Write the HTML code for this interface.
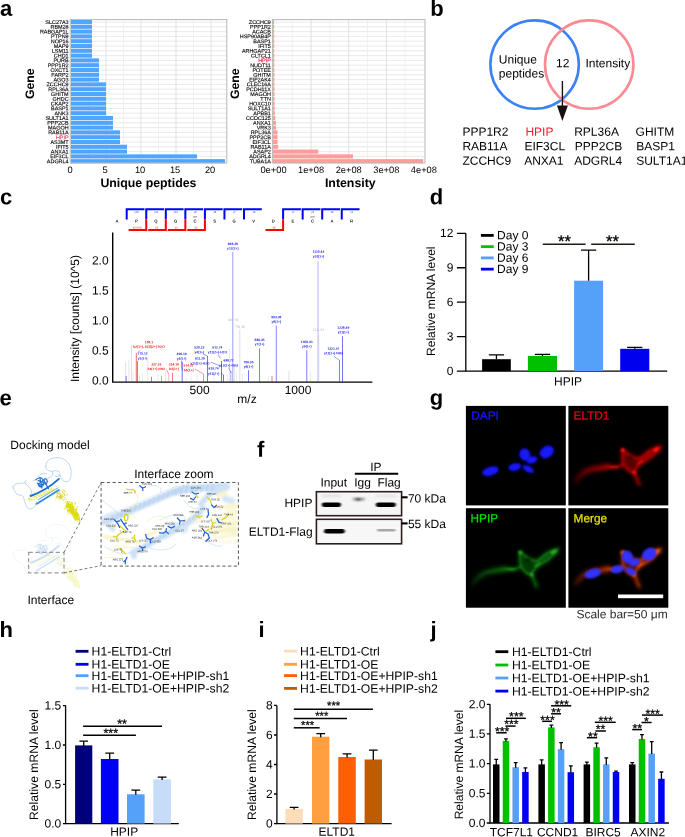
<!DOCTYPE html>
<html lang="en"><head><meta charset="utf-8"><title>Figure</title>
<style>
html,body{margin:0;padding:0;background:#fff;}
body{width:685px;height:837px;overflow:hidden;}
svg{display:block;will-change:transform;text-rendering:geometricPrecision;font-family:"Liberation Sans",Arial,Helvetica,sans-serif;}
</style></head><body>
<svg width="685" height="837" viewBox="0 0 685 837">
<rect width="685" height="837" fill="#fff"/>
<g font-weight="bold" font-size="22">
<text x="0" y="15.8" transform="rotate(0.03 0 15.8)">a</text>
<text x="430.3" y="15.8" transform="rotate(0.03 430.3 15.8)">b</text>
<text x="0" y="204.2" transform="rotate(0.03 0 204.2)">c</text>
<text x="429.8" y="204.2" transform="rotate(0.03 429.8 204.2)">d</text>
<text x="-0.6" y="405.3" transform="rotate(0.03 -0.6 405.3)">e</text>
<text x="257" y="456.7" transform="rotate(0.03 257 456.7)">f</text>
<text x="429.8" y="405" transform="rotate(0.03 429.8 405)">g</text>
<text x="-0.4" y="636.9" transform="rotate(0.03 -0.4 636.9)">h</text>
<text x="258.6" y="636.9" transform="rotate(0.03 258.6 636.9)">i</text>
<text x="430.6" y="636.9" transform="rotate(0.03 430.6 636.9)">j</text>
</g>
<g>
<rect x="70.2" y="19.6" width="156.6" height="143.4" fill="#fff"/>
<path d="M70.2 22H226.8M70.2 26.8H226.8M70.2 31.6H226.8M70.2 36.4H226.8M70.2 41.2H226.8M70.2 46H226.8M70.2 50.8H226.8M70.2 55.6H226.8M70.2 60.4H226.8M70.2 65.2H226.8M70.2 70H226.8M70.2 74.8H226.8M70.2 79.6H226.8M70.2 84.4H226.8M70.2 89.2H226.8M70.2 94H226.8M70.2 98.8H226.8M70.2 103.6H226.8M70.2 108.4H226.8M70.2 113.2H226.8M70.2 118H226.8M70.2 122.8H226.8M70.2 127.6H226.8M70.2 132.4H226.8M70.2 137.2H226.8M70.2 142H226.8M70.2 146.8H226.8M70.2 151.6H226.8M70.2 156.4H226.8M70.2 161.2H226.8" stroke="#e6e6e6" stroke-width="0.9" fill="none"/>
<path d="M106 19.6V163M141 19.6V163M176 19.6V163M211 19.6V163" stroke="#dedede" stroke-width="0.9" fill="none"/>
<path d="M88.5 19.6V163M123.5 19.6V163M158.5 19.6V163M193.5 19.6V163" stroke="#ebebeb" stroke-width="0.7" fill="none"/>
<g fill="#4fa5ff">
<rect x="71" y="19.95" width="21" height="4.1"/>
<rect x="71" y="24.75" width="21" height="4.1"/>
<rect x="71" y="29.55" width="21" height="4.1"/>
<rect x="71" y="34.35" width="21" height="4.1"/>
<rect x="71" y="39.15" width="21" height="4.1"/>
<rect x="71" y="43.95" width="21" height="4.1"/>
<rect x="71" y="48.75" width="21" height="4.1"/>
<rect x="71" y="53.55" width="21" height="4.1"/>
<rect x="71" y="58.35" width="28" height="4.1"/>
<rect x="71" y="63.15" width="28" height="4.1"/>
<rect x="71" y="67.95" width="28" height="4.1"/>
<rect x="71" y="72.75" width="28" height="4.1"/>
<rect x="71" y="77.55" width="28" height="4.1"/>
<rect x="71" y="82.35" width="35" height="4.1"/>
<rect x="71" y="87.15" width="35" height="4.1"/>
<rect x="71" y="91.95" width="35" height="4.1"/>
<rect x="71" y="96.75" width="35" height="4.1"/>
<rect x="71" y="101.55" width="35" height="4.1"/>
<rect x="71" y="106.35" width="35" height="4.1"/>
<rect x="71" y="111.15" width="35" height="4.1"/>
<rect x="71" y="115.95" width="42" height="4.1"/>
<rect x="71" y="120.75" width="42" height="4.1"/>
<rect x="71" y="125.55" width="42" height="4.1"/>
<rect x="71" y="130.35" width="49" height="4.1"/>
<rect x="71" y="135.15" width="49" height="4.1"/>
<rect x="71" y="139.95" width="49" height="4.1"/>
<rect x="71" y="144.75" width="56" height="4.1"/>
<rect x="71" y="149.55" width="56" height="4.1"/>
<rect x="71" y="154.35" width="126" height="4.1"/>
<rect x="71" y="159.15" width="154" height="4.1"/>
</g>
<rect x="70.2" y="19.6" width="156.6" height="143.4" fill="none" stroke="#b8b8b8" stroke-width="1"/>
<g font-size="5.45" text-anchor="end" stroke="#000" stroke-width="0.12">
<text x="68.6" y="23.95" transform="rotate(0.03 68.6 23.95)">SLC27A3</text>
<text x="68.6" y="28.75" transform="rotate(0.03 68.6 28.75)">RBM28</text>
<text x="68.6" y="33.55" transform="rotate(0.03 68.6 33.55)">RABGAP1L</text>
<text x="68.6" y="38.35" transform="rotate(0.03 68.6 38.35)">PTPN9</text>
<text x="68.6" y="43.15" transform="rotate(0.03 68.6 43.15)">NOP16</text>
<text x="68.6" y="47.95" transform="rotate(0.03 68.6 47.95)">MAP9</text>
<text x="68.6" y="52.75" transform="rotate(0.03 68.6 52.75)">LSM11</text>
<text x="68.6" y="57.55" transform="rotate(0.03 68.6 57.55)">CHD1</text>
<text x="68.6" y="62.35" transform="rotate(0.03 68.6 62.35)">PURB</text>
<text x="68.6" y="67.15" transform="rotate(0.03 68.6 67.15)">PPP1R2</text>
<text x="68.6" y="71.95" transform="rotate(0.03 68.6 71.95)">OXCT1</text>
<text x="68.6" y="76.75" transform="rotate(0.03 68.6 76.75)">FARP2</text>
<text x="68.6" y="81.55" transform="rotate(0.03 68.6 81.55)">AGO3</text>
<text x="68.6" y="86.35" transform="rotate(0.03 68.6 86.35)">ZCCHC9</text>
<text x="68.6" y="91.15" transform="rotate(0.03 68.6 91.15)">RPL36A</text>
<text x="68.6" y="95.95" transform="rotate(0.03 68.6 95.95)">GHITM</text>
<text x="68.6" y="100.75" transform="rotate(0.03 68.6 100.75)">GHDC</text>
<text x="68.6" y="105.55" transform="rotate(0.03 68.6 105.55)">CKAP2</text>
<text x="68.6" y="110.35" transform="rotate(0.03 68.6 110.35)">BASP1</text>
<text x="68.6" y="115.15" transform="rotate(0.03 68.6 115.15)">ANK3</text>
<text x="68.6" y="119.95" transform="rotate(0.03 68.6 119.95)">SULT1A1</text>
<text x="68.6" y="124.75" transform="rotate(0.03 68.6 124.75)">PPP2CB</text>
<text x="68.6" y="129.55" transform="rotate(0.03 68.6 129.55)">MAGOH</text>
<text x="68.6" y="134.35" transform="rotate(0.03 68.6 134.35)">RAB11A</text>
<text x="68.6" y="139.15" fill="#f03050" transform="rotate(0.03 68.6 139.15)" stroke="#f03050">HPIP</text>
<text x="68.6" y="143.95" transform="rotate(0.03 68.6 143.95)">AS3MT</text>
<text x="68.6" y="148.75" transform="rotate(0.03 68.6 148.75)">IFIT5</text>
<text x="68.6" y="153.55" transform="rotate(0.03 68.6 153.55)">ANXA1</text>
<text x="68.6" y="158.35" transform="rotate(0.03 68.6 158.35)">EIF3CL</text>
<text x="68.6" y="163.15" transform="rotate(0.03 68.6 163.15)">ADGRL4</text>
</g>
<g font-size="9.3" text-anchor="middle">
<text x="70.1" y="173" transform="rotate(0.03 70.1 173)">0</text>
<text x="105.1" y="173" transform="rotate(0.03 105.1 173)">5</text>
<text x="140.1" y="173" transform="rotate(0.03 140.1 173)">10</text>
<text x="175.1" y="173" transform="rotate(0.03 175.1 173)">15</text>
<text x="210.1" y="173" transform="rotate(0.03 210.1 173)">20</text>
</g>
<text x="148.4" y="187" font-size="12.35" text-anchor="middle" font-weight="bold" transform="rotate(0.03 148.4 187)">Unique peptides</text>
<text x="33.6" y="83.7" font-size="12.3" text-anchor="middle" font-weight="bold" transform="rotate(-90 33.6 83.7)">Gene</text>
</g>
<g>
<rect x="272.4" y="19.6" width="152.6" height="143.4" fill="#fff"/>
<path d="M272.4 22H425M272.4 26.8H425M272.4 31.6H425M272.4 36.4H425M272.4 41.2H425M272.4 46H425M272.4 50.8H425M272.4 55.6H425M272.4 60.4H425M272.4 65.2H425M272.4 70H425M272.4 74.8H425M272.4 79.6H425M272.4 84.4H425M272.4 89.2H425M272.4 94H425M272.4 98.8H425M272.4 103.6H425M272.4 108.4H425M272.4 113.2H425M272.4 118H425M272.4 122.8H425M272.4 127.6H425M272.4 132.4H425M272.4 137.2H425M272.4 142H425M272.4 146.8H425M272.4 151.6H425M272.4 156.4H425M272.4 161.2H425" stroke="#e6e6e6" stroke-width="0.9" fill="none"/>
<path d="M311.1 19.6V163M348.7 19.6V163M386.3 19.6V163" stroke="#dedede" stroke-width="0.9" fill="none"/>
<path d="M292.3 19.6V163M329.9 19.6V163M367.5 19.6V163M405.1 19.6V163" stroke="#ebebeb" stroke-width="0.7" fill="none"/>
<g fill="#ff9c9c">
<rect x="272.9" y="19.95" width="1.2" height="4.1"/>
<rect x="272.9" y="24.75" width="1.2" height="4.1"/>
<rect x="272.9" y="29.55" width="1.2" height="4.1"/>
<rect x="272.9" y="34.35" width="1.3" height="4.1"/>
<rect x="272.9" y="39.15" width="1.3" height="4.1"/>
<rect x="272.9" y="43.95" width="1.3" height="4.1"/>
<rect x="272.9" y="48.75" width="1.3" height="4.1"/>
<rect x="272.9" y="53.55" width="1.4" height="4.1"/>
<rect x="272.9" y="58.35" width="1.4" height="4.1"/>
<rect x="272.9" y="63.15" width="1.4" height="4.1"/>
<rect x="272.9" y="67.95" width="1.4" height="4.1"/>
<rect x="272.9" y="72.75" width="1.5" height="4.1"/>
<rect x="272.9" y="77.55" width="1.5" height="4.1"/>
<rect x="272.9" y="82.35" width="1.5" height="4.1"/>
<rect x="272.9" y="87.15" width="1.6" height="4.1"/>
<rect x="272.9" y="91.95" width="1.6" height="4.1"/>
<rect x="272.9" y="96.75" width="1.6" height="4.1"/>
<rect x="272.9" y="101.55" width="1.7" height="4.1"/>
<rect x="272.9" y="106.35" width="1.8" height="4.1"/>
<rect x="272.9" y="111.15" width="1.9" height="4.1"/>
<rect x="272.9" y="115.95" width="2.4" height="4.1"/>
<rect x="272.9" y="120.75" width="3.1" height="4.1"/>
<rect x="272.9" y="125.55" width="3.1" height="4.1"/>
<rect x="272.9" y="130.35" width="4.6" height="4.1"/>
<rect x="272.9" y="135.15" width="4.6" height="4.1"/>
<rect x="272.9" y="139.95" width="4.6" height="4.1"/>
<rect x="272.9" y="144.75" width="5.2" height="4.1"/>
<rect x="272.9" y="149.55" width="45.3" height="4.1"/>
<rect x="272.9" y="154.35" width="80.1" height="4.1"/>
<rect x="272.9" y="159.15" width="150.2" height="4.1"/>
</g>
<rect x="272.4" y="19.6" width="152.6" height="143.4" fill="none" stroke="#b8b8b8" stroke-width="1"/>
<g font-size="5.45" text-anchor="end" stroke="#000" stroke-width="0.12">
<text x="270.9" y="23.95" transform="rotate(0.03 270.9 23.95)">ZCCHC9</text>
<text x="270.9" y="28.75" transform="rotate(0.03 270.9 28.75)">PPP1R2</text>
<text x="270.9" y="33.55" transform="rotate(0.03 270.9 33.55)">ACACB</text>
<text x="270.9" y="38.35" transform="rotate(0.03 270.9 38.35)">HSP90AB4P</text>
<text x="270.9" y="43.15" transform="rotate(0.03 270.9 43.15)">BASP1</text>
<text x="270.9" y="47.95" transform="rotate(0.03 270.9 47.95)">IFIT5</text>
<text x="270.9" y="52.75" transform="rotate(0.03 270.9 52.75)">ARHGAP21</text>
<text x="270.9" y="57.55" transform="rotate(0.03 270.9 57.55)">CLTCL1</text>
<text x="270.9" y="62.35" fill="#f01030" transform="rotate(0.03 270.9 62.35)" stroke="#f01030">HPIP</text>
<text x="270.9" y="67.15" transform="rotate(0.03 270.9 67.15)">NUDT11</text>
<text x="270.9" y="71.95" transform="rotate(0.03 270.9 71.95)">POTEE</text>
<text x="270.9" y="76.75" transform="rotate(0.03 270.9 76.75)">GHITM</text>
<text x="270.9" y="81.55" transform="rotate(0.03 270.9 81.55)">EIF2AK4</text>
<text x="270.9" y="86.35" transform="rotate(0.03 270.9 86.35)">CLEC16A</text>
<text x="270.9" y="91.15" transform="rotate(0.03 270.9 91.15)">PCDH11X</text>
<text x="270.9" y="95.95" transform="rotate(0.03 270.9 95.95)">MAGOH</text>
<text x="270.9" y="100.75" transform="rotate(0.03 270.9 100.75)">TTN</text>
<text x="270.9" y="105.55" transform="rotate(0.03 270.9 105.55)">HOXC10</text>
<text x="270.9" y="110.35" transform="rotate(0.03 270.9 110.35)">SULT1A1</text>
<text x="270.9" y="115.15" transform="rotate(0.03 270.9 115.15)">APBB1</text>
<text x="270.9" y="119.95" transform="rotate(0.03 270.9 119.95)">CCDC125</text>
<text x="270.9" y="124.75" transform="rotate(0.03 270.9 124.75)">ANXA1</text>
<text x="270.9" y="129.55" transform="rotate(0.03 270.9 129.55)">VRK3</text>
<text x="270.9" y="134.35" transform="rotate(0.03 270.9 134.35)">RPL36A</text>
<text x="270.9" y="139.15" transform="rotate(0.03 270.9 139.15)">PPP2CB</text>
<text x="270.9" y="143.95" transform="rotate(0.03 270.9 143.95)">EIF3CL</text>
<text x="270.9" y="148.75" transform="rotate(0.03 270.9 148.75)">RAB11A</text>
<text x="270.9" y="153.55" transform="rotate(0.03 270.9 153.55)">ASAP2</text>
<text x="270.9" y="158.35" transform="rotate(0.03 270.9 158.35)">ADGRL4</text>
<text x="270.9" y="163.15" transform="rotate(0.03 270.9 163.15)">TUBA1A</text>
</g>
<g font-size="9.3" text-anchor="middle">
<text x="273.5" y="173" transform="rotate(0.03 273.5 173)">0e+00</text>
<text x="311.1" y="173" transform="rotate(0.03 311.1 173)">1e+08</text>
<text x="348.7" y="173" transform="rotate(0.03 348.7 173)">2e+08</text>
<text x="386.3" y="173" transform="rotate(0.03 386.3 173)">3e+08</text>
<text x="423.9" y="173" transform="rotate(0.03 423.9 173)">4e+08</text>
</g>
<text x="350.3" y="187" font-size="12.35" text-anchor="middle" font-weight="bold" transform="rotate(0.03 350.3 187)">Intensity</text>
<text x="239" y="83.7" font-size="12.3" text-anchor="middle" font-weight="bold" transform="rotate(-90 239 83.7)">Gene</text>
</g>
<g>
<circle cx="534.6" cy="64.6" r="44.2" fill="none" stroke="#3b82f6" stroke-width="2.6"/>
<circle cx="589.2" cy="64.6" r="44.2" fill="none" stroke="#fb8a94" stroke-width="2.6"/>
<text x="498.8" y="63.6" font-size="12" transform="rotate(0.03 498.8 63.6)">Unique</text>
<text x="498.8" y="77.6" font-size="12" transform="rotate(0.03 498.8 77.6)">peptides</text>
<text x="562.8" y="67.2" font-size="12" text-anchor="middle" transform="rotate(0.03 562.8 67.2)">12</text>
<text x="585.5" y="67.2" font-size="12" transform="rotate(0.03 585.5 67.2)">Intensity</text>
<line x1="562.4" y1="81" x2="562.4" y2="108" stroke="#1a1010" stroke-width="1.4"/>
<path d="M556.9 105.6L562.4 121L567.9 105.6Z" fill="#1a1010"/>
<g font-size="12">
<text x="462.4" y="135.8" transform="rotate(0.03 462.4 135.8)">PPP1R2</text>
<text x="525.4" y="135.8" fill="#ee1c25" transform="rotate(0.03 525.4 135.8)">HPIP</text>
<text x="574.2" y="135.8" transform="rotate(0.03 574.2 135.8)">RPL36A</text>
<text x="635.6" y="135.8" transform="rotate(0.03 635.6 135.8)">GHITM</text>
<text x="462.4" y="150.3" transform="rotate(0.03 462.4 150.3)">RAB11A</text>
<text x="524.4" y="150.3" transform="rotate(0.03 524.4 150.3)">EIF3CL</text>
<text x="574.8" y="150.3" transform="rotate(0.03 574.8 150.3)">PPP2CB</text>
<text x="636.2" y="150.3" transform="rotate(0.03 636.2 150.3)">BASP1</text>
<text x="462.4" y="164.7" transform="rotate(0.03 462.4 164.7)">ZCCHC9</text>
<text x="524.2" y="164.7" transform="rotate(0.03 524.2 164.7)">ANXA1</text>
<text x="574.2" y="164.7" transform="rotate(0.03 574.2 164.7)">ADGRL4</text>
<text x="636.2" y="164.7" transform="rotate(0.03 636.2 164.7)">SULT1A1</text>
</g>
</g>
<g>
<g font-size="4.2" text-anchor="middle" font-weight="bold" fill="#222">
<text x="116.9" y="222.5" transform="rotate(0.03 116.9 222.5)">A</text>
<text x="136.45" y="222.5" transform="rotate(0.03 136.45 222.5)">P</text>
<text x="156" y="222.5" transform="rotate(0.03 156 222.5)">Q</text>
<text x="175.55" y="222.5" transform="rotate(0.03 175.55 222.5)">G</text>
<text x="195.1" y="222.5" transform="rotate(0.03 195.1 222.5)">C</text>
<text x="214.65" y="222.5" transform="rotate(0.03 214.65 222.5)">S</text>
<text x="234.2" y="222.5" transform="rotate(0.03 234.2 222.5)">G</text>
<text x="253.75" y="222.5" transform="rotate(0.03 253.75 222.5)">V</text>
<text x="273.3" y="222.5" transform="rotate(0.03 273.3 222.5)">D</text>
<text x="292.85" y="222.5" transform="rotate(0.03 292.85 222.5)">E</text>
<text x="312.4" y="222.5" transform="rotate(0.03 312.4 222.5)">C</text>
<text x="331.95" y="222.5" transform="rotate(0.03 331.95 222.5)">A</text>
<text x="351.5" y="222.5" transform="rotate(0.03 351.5 222.5)">R</text>
</g>
<g font-size="2.4" text-anchor="middle" fill="#222">
<text x="195.1" y="217.6" transform="rotate(0.03 195.1 217.6)">cam</text>
<text x="312.4" y="217.6" transform="rotate(0.03 312.4 217.6)">cam</text>
</g>
<path d="M126.7 219.6V209.2H144.5M146.25 219.6V209.2H164.05M165.8 219.6V209.2H183.6M185.35 219.6V209.2H203.15M204.9 219.6V209.2H222.7M224.45 219.6V209.2H242.25M244 219.6V209.2H261.8M283.1 219.6V209.2H300.9M302.65 219.6V209.2H320.45M322.2 219.6V209.2H340M341.75 219.6V209.2H359.55" stroke="#0000ff" stroke-width="2" fill="none"/>
<path d="M146.25 219.4V230H128.65M165.8 219.4V230H148.2M185.35 219.4V230H167.75M204.9 219.4V230H187.3M283.1 219.4V230H265.5" stroke="#ff0000" stroke-width="2" fill="none"/>
<g font-size="2.6" text-anchor="middle" fill="#2222ee">
<text x="136.7" y="212.7" transform="rotate(0.03 136.7 212.7)">y12</text>
<text x="156.25" y="212.7" transform="rotate(0.03 156.25 212.7)">y11</text>
<text x="175.8" y="212.7" transform="rotate(0.03 175.8 212.7)">y10</text>
<text x="195.35" y="212.7" transform="rotate(0.03 195.35 212.7)">y9</text>
<text x="214.9" y="212.7" transform="rotate(0.03 214.9 212.7)">y8</text>
<text x="234.45" y="212.7" transform="rotate(0.03 234.45 212.7)">y7</text>
<text x="254" y="212.7" transform="rotate(0.03 254 212.7)">y6</text>
<text x="293.1" y="212.7" transform="rotate(0.03 293.1 212.7)">y4</text>
<text x="312.65" y="212.7" transform="rotate(0.03 312.65 212.7)">y3</text>
<text x="332.2" y="212.7" transform="rotate(0.03 332.2 212.7)">y2</text>
<text x="351.75" y="212.7" transform="rotate(0.03 351.75 212.7)">y1</text>
</g>
<g font-size="2.6" text-anchor="middle" fill="#ee2222">
<text x="137.25" y="228.4" transform="rotate(0.03 137.25 228.4)">b2-NH3</text>
<text x="156.8" y="228.4" transform="rotate(0.03 156.8 228.4)">b3</text>
<text x="176.35" y="228.4" transform="rotate(0.03 176.35 228.4)">b4</text>
<text x="195.9" y="228.4" transform="rotate(0.03 195.9 228.4)">b5</text>
<text x="274.1" y="228.4" transform="rotate(0.03 274.1 228.4)">b9</text>
</g>
<line x1="125.5" y1="362" x2="125.5" y2="381.6" stroke="#9a9a9a" stroke-width="0.5" opacity="0.55"/>
<line x1="126.2" y1="375.9" x2="126.2" y2="381.6" stroke="#1414f0" stroke-width="0.7" opacity="0.8"/>
<line x1="128.9" y1="360" x2="128.9" y2="381.6" stroke="#9a9a9a" stroke-width="0.5" opacity="0.5"/>
<line x1="131.5" y1="344.7" x2="131.5" y2="381.6" stroke="#9a9a9a" stroke-width="0.5" opacity="0.6"/>
<line x1="133" y1="371" x2="133" y2="381.6" stroke="#9a9a9a" stroke-width="0.5" opacity="0.4"/>
<line x1="136.3" y1="352.9" x2="136.3" y2="381.6" stroke="#f01414" stroke-width="0.7" opacity="0.9"/>
<line x1="137.4" y1="361" x2="137.4" y2="381.6" stroke="#1414f0" stroke-width="0.7" opacity="0.8"/>
<line x1="139.5" y1="374.5" x2="139.5" y2="381.6" stroke="#9a9a9a" stroke-width="0.5" opacity="0.4"/>
<line x1="142.3" y1="373" x2="142.3" y2="381.6" stroke="#9a9a9a" stroke-width="0.5" opacity="0.4"/>
<line x1="147.8" y1="359" x2="147.8" y2="381.6" stroke="#9a9a9a" stroke-width="0.5" opacity="0.5"/>
<line x1="151.4" y1="376.9" x2="151.4" y2="381.6" stroke="#1414f0" stroke-width="0.7" opacity="0.8"/>
<line x1="158" y1="374.5" x2="158" y2="381.6" stroke="#9a9a9a" stroke-width="0.5" opacity="0.4"/>
<line x1="161.4" y1="375.9" x2="161.4" y2="381.6" stroke="#f01414" stroke-width="0.7" opacity="0.7"/>
<line x1="165.6" y1="371" x2="165.6" y2="381.6" stroke="#9a9a9a" stroke-width="0.5" opacity="0.45"/>
<line x1="168.8" y1="374.3" x2="168.8" y2="381.6" stroke="#f01414" stroke-width="0.7" opacity="0.45"/>
<line x1="172.5" y1="372.8" x2="172.5" y2="381.6" stroke="#f01414" stroke-width="0.7" opacity="0.8"/>
<line x1="182.2" y1="361.6" x2="182.2" y2="381.6" stroke="#1414f0" stroke-width="0.7" opacity="0.85"/>
<line x1="186" y1="377" x2="186" y2="381.6" stroke="#9a9a9a" stroke-width="0.5" opacity="0.4"/>
<line x1="191" y1="376" x2="191" y2="381.6" stroke="#9a9a9a" stroke-width="0.5" opacity="0.4"/>
<line x1="197" y1="375.5" x2="197" y2="381.6" stroke="#9a9a9a" stroke-width="0.5" opacity="0.4"/>
<line x1="203.4" y1="373.8" x2="203.4" y2="381.6" stroke="#f01414" stroke-width="0.7" opacity="0.8"/>
<line x1="207.5" y1="356" x2="207.5" y2="381.6" stroke="#1414f0" stroke-width="0.7" opacity="0.85"/>
<line x1="214" y1="376.5" x2="214" y2="381.6" stroke="#9a9a9a" stroke-width="0.5" opacity="0.4"/>
<line x1="221.5" y1="361" x2="221.5" y2="381.6" stroke="#1414f0" stroke-width="0.7" opacity="0.85"/>
<line x1="223.5" y1="374.9" x2="223.5" y2="381.6" stroke="#1414f0" stroke-width="0.7" opacity="0.85"/>
<line x1="227.5" y1="374" x2="227.5" y2="381.6" stroke="#9a9a9a" stroke-width="0.5" opacity="0.45"/>
<line x1="229.3" y1="349" x2="229.3" y2="381.6" stroke="#9a9a9a" stroke-width="0.5" opacity="0.55"/>
<line x1="230.8" y1="371" x2="230.8" y2="381.6" stroke="#1414f0" stroke-width="0.6" opacity="0.6"/>
<line x1="232.8" y1="251.8" x2="232.8" y2="381.6" stroke="#1414f0" stroke-width="0.7" opacity="0.6"/>
<line x1="234.6" y1="365" x2="234.6" y2="381.6" stroke="#9a9a9a" stroke-width="0.5" opacity="0.5"/>
<line x1="236.3" y1="372" x2="236.3" y2="381.6" stroke="#9a9a9a" stroke-width="0.5" opacity="0.4"/>
<line x1="239.8" y1="329.3" x2="239.8" y2="381.6" stroke="#9a9a9a" stroke-width="0.6" opacity="0.55"/>
<line x1="242.5" y1="374" x2="242.5" y2="381.6" stroke="#9a9a9a" stroke-width="0.5" opacity="0.4"/>
<line x1="248.5" y1="370.2" x2="248.5" y2="381.6" stroke="#1414f0" stroke-width="0.7" opacity="0.85"/>
<line x1="259.6" y1="348.4" x2="259.6" y2="381.6" stroke="#1414f0" stroke-width="0.7" opacity="0.85"/>
<line x1="268.5" y1="376.5" x2="268.5" y2="381.6" stroke="#9a9a9a" stroke-width="0.5" opacity="0.4"/>
<line x1="272" y1="376" x2="272" y2="381.6" stroke="#f01414" stroke-width="0.8" opacity="0.7"/>
<line x1="276.3" y1="325.6" x2="276.3" y2="381.6" stroke="#1414f0" stroke-width="0.7" opacity="0.75"/>
<line x1="288.9" y1="371" x2="288.9" y2="381.6" stroke="#9a9a9a" stroke-width="0.5" opacity="0.6"/>
<line x1="306.8" y1="350.4" x2="306.8" y2="381.6" stroke="#1414f0" stroke-width="0.7" opacity="0.8"/>
<line x1="310.5" y1="371.5" x2="310.5" y2="381.6" stroke="#9a9a9a" stroke-width="0.5" opacity="0.45"/>
<line x1="318" y1="261" x2="318" y2="381.6" stroke="#1414f0" stroke-width="0.7" opacity="0.45"/>
<line x1="319" y1="335" x2="319" y2="381.6" stroke="#9a9a9a" stroke-width="0.5" opacity="0.4"/>
<line x1="339.6" y1="360.3" x2="339.6" y2="381.6" stroke="#1414f0" stroke-width="0.7" opacity="0.85"/>
<line x1="342.5" y1="336.2" x2="342.5" y2="381.6" stroke="#1414f0" stroke-width="0.7" opacity="0.85"/>
<line x1="140.5" y1="350.6" x2="138.2" y2="351.8" stroke="#f01414" stroke-width="0.6" opacity="0.7"/>
<line x1="166.6" y1="369.6" x2="168.8" y2="374.3" stroke="#f01414" stroke-width="0.6" opacity="0.7"/>
<line x1="194.9" y1="369.1" x2="203.4" y2="373.8" stroke="#f01414" stroke-width="0.6" opacity="0.7"/>
<line x1="181.5" y1="361" x2="182.2" y2="371" stroke="#1414f0" stroke-width="0.6" opacity="0.7"/>
<line x1="202.6" y1="353.9" x2="207.5" y2="356" stroke="#1414f0" stroke-width="0.6" opacity="0.7"/>
<line x1="210.8" y1="362.1" x2="221.5" y2="366.7" stroke="#1414f0" stroke-width="0.6" opacity="0.7"/>
<line x1="217.9" y1="354.4" x2="220.5" y2="358.5" stroke="#1414f0" stroke-width="0.6" opacity="0.7"/>
<line x1="221" y1="373" x2="223.5" y2="375" stroke="#1414f0" stroke-width="0.6" opacity="0.7"/>
<line x1="228.6" y1="367.7" x2="231.2" y2="372.8" stroke="#1414f0" stroke-width="0.6" opacity="0.7"/>
<line x1="333.6" y1="356.1" x2="339.6" y2="360.3" stroke="#1414f0" stroke-width="0.6" opacity="0.7"/>
<g font-size="3.3" font-weight="bold" text-anchor="middle">
<text x="149" y="343.3" fill="#f01414" transform="rotate(0.03 149 343.3)">186.1</text>
<text x="149" y="347.8" fill="#f01414" transform="rotate(0.03 149 347.8)">b2(1+), b(3)(2+)-H2O</text>
<text x="142.6" y="354.5" fill="#1414f0" transform="rotate(0.03 142.6 354.5)">175.12</text>
<text x="142.6" y="359.4" fill="#1414f0" transform="rotate(0.03 142.6 359.4)">y1(1+)</text>
<text x="156.2" y="365.5" fill="#f01414" transform="rotate(0.03 156.2 365.5)">337.16</text>
<text x="156.2" y="370.1" fill="#f01414" transform="rotate(0.03 156.2 370.1)">b4(1+)-NH3</text>
<text x="173.9" y="365.5" fill="#f01414" transform="rotate(0.03 173.9 365.5)">354.18</text>
<text x="173.9" y="370.1" fill="#f01414" transform="rotate(0.03 173.9 370.1)">b4(1+)</text>
<text x="188.6" y="366.4" fill="#f01414" transform="rotate(0.03 188.6 366.4)">514.21</text>
<text x="188.6" y="371.2" fill="#f01414" transform="rotate(0.03 188.6 371.2)">b5(1+)</text>
<text x="181.6" y="354.9" fill="#1414f0" transform="rotate(0.03 181.6 354.9)">406.19</text>
<text x="181.6" y="359.8" fill="#1414f0" transform="rotate(0.03 181.6 359.8)">y3(1+)</text>
<text x="199.3" y="348.4" fill="#1414f0" transform="rotate(0.03 199.3 348.4)">530.23</text>
<text x="199.3" y="353.3" fill="#1414f0" transform="rotate(0.03 199.3 353.3)">y4(1+)</text>
<text x="200" y="359.6" fill="#1414f0" transform="rotate(0.03 200 359.6)">611.28</text>
<text x="200" y="364.5" fill="#1414f0" transform="rotate(0.03 200 364.5)">y11(2+)-H2O</text>
<text x="217.4" y="348.4" fill="#1414f0" transform="rotate(0.03 217.4 348.4)">612.74</text>
<text x="217.4" y="353.3" fill="#1414f0" transform="rotate(0.03 217.4 353.3)">y11(2+)-H2O</text>
<text x="213.6" y="369.6" fill="#1414f0" transform="rotate(0.03 213.6 369.6)">619.74</text>
<text x="213.6" y="374.7" fill="#1414f0" transform="rotate(0.03 213.6 374.7)">y11(2+)</text>
<text x="228.6" y="361.4" fill="#1414f0" transform="rotate(0.03 228.6 361.4)">688.77</text>
<text x="228.6" y="366.4" fill="#1414f0" transform="rotate(0.03 228.6 366.4)">y12(2+)-NH3</text>
<text x="232.8" y="245" fill="#1414f0" transform="rotate(0.03 232.8 245)">698.39</text>
<text x="232.8" y="249.5" fill="#1414f0" transform="rotate(0.03 232.8 249.5)">y12(2+)</text>
<text x="248.5" y="363.2" fill="#1414f0" transform="rotate(0.03 248.5 363.2)">799.35</text>
<text x="248.5" y="367.7" fill="#1414f0" transform="rotate(0.03 248.5 367.7)">y6(1+)</text>
<text x="259.6" y="340.9" fill="#1414f0" transform="rotate(0.03 259.6 340.9)">886.35</text>
<text x="259.6" y="345.3" fill="#1414f0" transform="rotate(0.03 259.6 345.3)">y7(1+)</text>
<text x="276.3" y="318.3" fill="#1414f0" transform="rotate(0.03 276.3 318.3)">993.38</text>
<text x="276.3" y="322.7" fill="#1414f0" transform="rotate(0.03 276.3 322.7)">y8(1+)</text>
<text x="306.8" y="342.9" fill="#1414f0" transform="rotate(0.03 306.8 342.9)">1050.41</text>
<text x="306.8" y="347.6" fill="#1414f0" transform="rotate(0.03 306.8 347.6)">y9(1+)</text>
<text x="318.5" y="252.7" fill="#1414f0" transform="rotate(0.03 318.5 252.7)">1110.44</text>
<text x="318.5" y="257.5" fill="#1414f0" transform="rotate(0.03 318.5 257.5)">y10(1+)</text>
<text x="333.4" y="349.8" fill="#1414f0" transform="rotate(0.03 333.4 349.8)">1321.47</text>
<text x="333.4" y="354.3" fill="#1414f0" transform="rotate(0.03 333.4 354.3)">y11(1+)-NH3</text>
<text x="343.3" y="328.7" fill="#1414f0" transform="rotate(0.03 343.3 328.7)">1238.49</text>
<text x="343.3" y="333.2" fill="#1414f0" transform="rotate(0.03 343.3 333.2)">y11(1+)</text>
</g>
<g font-size="3.2" text-anchor="middle" fill="#b0b0b0">
<text x="233.2" y="321" transform="rotate(0.03 233.2 321)">697.70</text>
<text x="239.8" y="327.7" transform="rotate(0.03 239.8 327.7)">706.38</text>
<text x="318.5" y="330.7" transform="rotate(0.03 318.5 330.7)">1111.43</text>
</g>
<path d="M112.7 232.6V382.1H372.4" stroke="#000" stroke-width="1.4" fill="none"/>
<g font-size="12" text-anchor="end">
<text x="108.6" y="264.6" transform="rotate(0.03 108.6 264.6)">2.0</text>
<text x="108.6" y="294.6" transform="rotate(0.03 108.6 294.6)">1.5</text>
<text x="108.6" y="324.6" transform="rotate(0.03 108.6 324.6)">1.0</text>
<text x="108.6" y="354.6" transform="rotate(0.03 108.6 354.6)">0.5</text>
<text x="108.6" y="384.6" transform="rotate(0.03 108.6 384.6)">0.0</text>
</g>
<text x="79" y="318.6" font-size="12" text-anchor="middle" transform="rotate(-90 79 318.6)">Intensity [counts] (10^5)</text>
<text x="199.6" y="394" font-size="12" text-anchor="middle" transform="rotate(0.03 199.6 394)">500</text>
<text x="298" y="394" font-size="12" text-anchor="middle" transform="rotate(0.03 298 394)">1000</text>
<text x="247" y="403" font-size="12" text-anchor="middle" transform="rotate(0.03 247 403)">m/z</text>
</g>
<g>
<path d="M465.8 233.3V371.1H667.2" stroke="#000" stroke-width="1.3" fill="none"/>
<path d="M456.9 371.1H465.8M456.9 336.65H465.8M456.9 302.2H465.8M456.9 267.75H465.8M456.9 233.3H465.8" stroke="#000" stroke-width="1.3" fill="none"/>
<g font-size="12" text-anchor="end">
<text x="453.4" y="374.9" transform="rotate(0.03 453.4 374.9)">0</text>
<text x="453.4" y="340.45" transform="rotate(0.03 453.4 340.45)">3</text>
<text x="453.4" y="306" transform="rotate(0.03 453.4 306)">6</text>
<text x="453.4" y="271.55" transform="rotate(0.03 453.4 271.55)">9</text>
<text x="453.4" y="237.1" transform="rotate(0.03 453.4 237.1)">12</text>
</g>
<text x="434.9" y="301.2" font-size="12" text-anchor="middle" transform="rotate(-90 434.9 301.2)">Relative mRNA level</text>
<rect x="482.1" y="359.2" width="28.7" height="11.9" fill="#000000"/>
<path d="M496.45 359.2V354.8M488.85 354.8H504.05" stroke="#000" stroke-width="1.3" fill="none"/>
<rect x="527.9" y="355.9" width="29.1" height="15.2" fill="#00c000"/>
<path d="M542.45 355.9V354.4M534.85 354.4H550.05" stroke="#000" stroke-width="1.3" fill="none"/>
<rect x="574.1" y="280.7" width="29" height="90.4" fill="#55a0f8"/>
<path d="M588.6 280.7V250.2M581 250.2H596.2" stroke="#000" stroke-width="1.3" fill="none"/>
<rect x="620.2" y="348.8" width="29.1" height="22.3" fill="#0000ee"/>
<path d="M634.75 348.8V347.3M627.15 347.3H642.35" stroke="#000" stroke-width="1.3" fill="none"/>
<line x1="542.8" y1="244.3" x2="585.6" y2="244.3" stroke="#231815" stroke-width="1.4"/>
<line x1="591.2" y1="244.3" x2="634.8" y2="244.3" stroke="#231815" stroke-width="1.4"/>
<text x="564.4" y="246.8" font-size="16.5" text-anchor="middle" transform="rotate(0.03 564.4 246.8)" stroke="#000" stroke-width="0.3">**</text>
<text x="612.4" y="246.8" font-size="16.5" text-anchor="middle" transform="rotate(0.03 612.4 246.8)" stroke="#000" stroke-width="0.3">**</text>
<rect x="480.9" y="234" width="12.8" height="2.8" fill="#000000"/>
<text x="497.1" y="239.3" font-size="12" transform="rotate(0.03 497.1 239.3)">Day 0</text>
<rect x="480.9" y="245.25" width="12.8" height="2.8" fill="#00c000"/>
<text x="497.1" y="250.55" font-size="12" transform="rotate(0.03 497.1 250.55)">Day 3</text>
<rect x="480.9" y="256.5" width="12.8" height="2.8" fill="#55a0f8"/>
<text x="497.1" y="261.8" font-size="12" transform="rotate(0.03 497.1 261.8)">Day 6</text>
<rect x="480.9" y="267.75" width="12.8" height="2.8" fill="#0000ee"/>
<text x="497.1" y="273.05" font-size="12" transform="rotate(0.03 497.1 273.05)">Day 9</text>
<text x="568" y="385.6" font-size="12" text-anchor="middle" transform="rotate(0.03 568 385.6)">HPIP</text>
</g>
<defs>
<filter id="b03" x="-20%" y="-20%" width="140%" height="140%"><feGaussianBlur stdDeviation="0.35"/></filter>
<filter id="b08" x="-20%" y="-20%" width="140%" height="140%"><feGaussianBlur stdDeviation="0.8"/></filter>
<g id="prot" fill="none" stroke-linecap="round" stroke-linejoin="round">
<path d="M45.7 466.5C46 461 50 458 54 458.2C58 456.8 64 458 67 461.6C70.4 465 71.6 470 71 475C70.6 479 69 481.6 66.8 481.8C64 482 62 480 61 478C60 476.4 60 475 59.4 474.2M45.7 466.5C46 469 47 470 48.6 470.6C50.4 471.2 52.6 470.6 52.6 472.4C52.8 474.6 52 476.4 50.6 477.2C48.6 478.4 46 478 44.2 478.4M12.9 486.8C14 484.6 16 483.8 18.2 483.4C20.6 483 23 483.6 24.8 482.8C26 482.2 25.4 480.8 26 480.2M12.9 486.8C13.4 489.6 15 492 16.8 494C18.6 495.4 20.6 494.8 22.2 495.6C24 497 24 499.6 24.8 502C25.6 504.6 26.6 507.4 28.8 508.6C30.8 509.4 32.6 508.6 34 507.2C35.6 505.6 36 503.6 36.6 501.8M24.8 482.8C26.8 485 29.6 487.4 31.2 490.2C32.2 492 31 494 30 495.4M38 476.6C40 474 44 473 47 474M52 471.6C55 470 58 470.4 60 472.6M33 481C35 479.4 36.6 479.6 38 480.8M55 476C57 477 59 476.6 60.4 475.2" stroke="#5b9bdf" stroke-width="0.45" opacity="0.9"/>
<path d="M36 479.6C38 477.4 41 477 42.6 479C44 481 40 482.4 38.6 484C37.6 485.6 40 487.4 42 486.4C44 485.4 44.8 482.6 44 480.6C43.4 479 45 478.4 46.4 479.4C47.8 480.6 47 483 46 484.6M37.4 483L42 488M40 478.4L41.6 486M38.4 480.6L43.6 482.4M39 485.4L44.4 483.6" stroke="#1c6fd0" stroke-width="1.15"/>
<path d="M44.4 480.9C45.6 483.6 47 486 48.4 488.8" stroke="#1c6fd0" stroke-width="1.2"/>
<path d="M30.6 496C38 493.4 50 487 58.9 478.9" stroke="#1c6fd0" stroke-width="1.9"/>
<path d="M36.5 503.9L58.9 490.1" stroke="#2f8be6" stroke-width="1.8"/>
<path d="M38.5 499.6L57.4 488.2" stroke="#2f8be6" stroke-width="0.8"/>
<path d="M28.42 499.48l0.66 -1.71M29.91 499.65l-1.94 0.03M30.27 499.34l-1.89 -1.64M32.05 500.07l-1.66 -1.11M33.53 499.94l0.34 -0.41M35.24 496.53l1.58 -0.84M35.07 496.23l-0.84 1.26M36.28 497.19l0.61 -0.51M38.02 495.01l-1.94 -1.18M39.39 495.65l-0.82 0.34M40.19 494.72l1.3 0.8M41.01 495.07l0.11 1.5M42.94 493.63l2.11 -1.53M43.6 494.61l-1.53 -0.04M44.15 493.8l1.16 0.29M46.64 492.14l0.86 0.38M47.32 492.08l1.5 1.78M48.31 492.22l-1.93 0.81M49.74 492.75l1.42 -0.86M50.48 491.18l-2.1 -0.15M51.29 488.89l-1.94 1.07M52.38 488.79l-0.48 1.49M53.46 488.91l0.22 1.53M55.8 489.71l-0.97 -0.34M56.22 489.25l2.01 -1.4M57.08 486.64l-1.17 -0.06" stroke="#d4d41c" stroke-width="0.5"/>
<path d="M28.7 501.6L56 489M30 498.6L52 488" stroke="#d8d820" stroke-width="0.45"/>
<path d="M59.08 493.07l-2.38 -0.39M58.51 497.43l2.17 0.91M57.21 493.97l0.85 -2.14M64.45 491.11l1.8 1.43M58.75 496.42l-1.9 0.64M61.7 494.86l-1.4 -1.62M60.34 495.29l-2.4 -1.67M62.79 496.21l-2.28 1.8M59.69 493.21l-1.19 -0.73M59.92 495.63l1.67 2.37M57.88 495.18l-1.99 -1.91M59.68 496.5l1.58 -1.63M67.12 495.54l0.14 -1.7M60.21 494.2l0.13 2.3M63.42 490.66l-1.15 -0.64M63.03 499.17l0.16 1.34M59.91 496.39l1.5 2.33M63.63 489.77l1.53 1.15M61.26 498.22l-0.69 -2.26M62.87 494.85l-1.16 0.92M63.53 493.46l2.1 2.34M63.18 493.55l-1.34 -1.31M61.38 496.44l0.6 1.92M62.4 491.32l0.73 1.44M64.09 496.79l1.97 1.36M60.8 490.75l-1.54 1.39M58.49 499.39l2.26 -0.5M55.67 498.9l1.08 -1.58M61.84 495.71l1.94 1.47M63.75 499.16l2.31 0.75M58.87 497.66l-1.77 -2.33M64.5 493.56l0.13 2.08M55.98 497.02l1.57 -1.39M60.78 497.06l-1.25 0.41" stroke="#cccc14" stroke-width="0.55"/>
<path d="M70 507.9l2.13 -0.88M69.43 508.88l-0.41 2.51M70.99 510.69l-2.5 -0.36M73.13 506.5l-1.7 -0.16M73.66 513.81l0.1 0.33M77.33 516.2l-1.31 -1.34M73.32 514.83l1.35 2.47M70.94 509.1l0.06 1.16M70.67 509.98l2.3 1.2M77.7 516.04l0.31 2.66M76.69 516.44l-0.3 -2.56M72.88 508.19l1.48 2.38M69.29 504.01l-1.86 2.3M78.1 521.13l-0.53 -0.08M78.01 517.33l-0.36 0.09M72.02 509.84l1.16 -2.88M73.19 511.88l-0.88 0.74M77.65 512.77l1.5 2.83M69.32 505.7l1.45 -1.38M66.29 507.11l1.66 -1.45M71.71 505.07l1.04 -2.46M68.25 503.26l-2.22 2.63M74.46 512.38l1.85 -2.6M74.86 516.59l0.28 2.56M72.3 508.9l-1.36 -2.34M70.97 506.42l-0.98 -1.17M74.89 516.33l-1.67 -0.92M68.57 504.31l1.21 0.31M66.22 507.04l-2.05 1.91M69.15 510.11l-0.56 0.04M76.28 513.56l1.73 1.24M72.95 513.69l-2.32 -2.22M68.98 503.74l-1.75 -2.49M77.88 514.4l-1.13 -1.55M70.13 508.23l-0.28 -1.42M79.36 517.35l-1.33 2.79M71.2 508.31l-0.62 -0.15M73.64 512.62l-2.57 -1.41M68.83 505.33l-2.48 -1.17M68.75 506.27l1.3 0.95M76.21 513.15l-0.9 2.91M69.38 503.97l-2.37 2.01M74.68 515.01l1.62 -2.16M69.99 511.27l1.58 1.96M75.79 510.89l1.01 -1.62M69.76 505.23l-2.05 2.01M71.88 510.43l0.94 -0.06M69.26 501.63l0.02 0.21M77.01 514.22l-1.29 -2.55M70.69 506.68l1.25 2.85M71.51 511.99l0.96 1.6M73.65 512.25l-1.83 -1.48M74.5 516.21l-2.54 -2.64M69.64 505.77l0.91 -1.25M71.29 511.58l-1.98 2.36M74.18 506.22l-2.51 -0.25M77.76 515.3l-1.2 -1.74M77.65 519.21l-1.86 0.14M79.28 519.44l0.05 2.32M75.29 516.9l-0.07 -2.85M66.57 503.93l-1.03 -2.16M70.25 511.21l-2.59 1.5M78.95 518.07l1.11 2.41M69.89 508.98l2.59 0.54M70.49 509.48l-2.35 -2.39M75.2 519.02l-1.3 -1.41M73.71 512.42l2.37 2.31M73.31 513.22l2.29 0.3M77.65 514.86l-0.26 1.52M74.21 513.51l2.22 -2.24M71.95 511.58l1.24 2.86M69.99 506.56l0.3 -0.63M70.55 507.02l2.11 -0.02M75.18 504.35l-0.26 -2.16M71.48 507.26l-2.13 -1.57M67.56 506.28l1.3 -0.52M70.57 509.55l-0.84 -2.63M71.82 507.65l0.02 0.78M76.63 517.31l-1.31 -0.6M75.67 509.44l1.94 -2.87M67.79 501.38l-0.14 0.52M65.38 505.82l1.69 2.13M77.35 518.47l-1.8 0.13M77.21 512.82l0.77 1.59M72.15 510.26l1.47 -1.6M75.98 516.1l-1.93 -1.49M73.99 512.32l-2.23 0.15M72.84 512.84l0.53 -2.94M67.01 509.01l0.75 2.3M72.9 511.69l2.4 1.23M73.21 508.45l0.91 -0.48M68.85 504.74l-1.42 -2.8M69.25 509.68l-1.57 1.78M74.05 514.41l2.44 -1.13M76.09 516.59l1.35 -1.23" stroke="#dada06" stroke-width="0.85"/>
<path d="M67.4 502.6L78 519.6M69.6 501.6L79.6 517.4M66.4 505.6L75.4 520.6M71.4 502L76.4 520.4" stroke="#dcdc0c" stroke-width="0.8"/>
</g>
</defs>
<g>
<text x="10.3" y="448.9" font-size="12" transform="rotate(0.03 10.3 448.9)">Docking model</text>
<text x="134.2" y="478" font-size="12" transform="rotate(0.03 134.2 478)">Interface zoom</text>
<text x="27.4" y="604" font-size="12" transform="rotate(0.03 27.4 604)">Interface</text>
<use href="#prot" filter="url(#b03)"/>
<use href="#prot" transform="translate(0 66.8)" opacity="0.22" filter="url(#b03)"/>
<rect x="28.6" y="552.4" width="35.4" height="20.5" fill="none" stroke="#9c9c9c" stroke-width="1.2" stroke-dasharray="4.2 2.6"/>
<path d="M64 552.4L101 482.6M64 572.9L101 565.6" stroke="#444" stroke-width="0.7" stroke-dasharray="3 2.2" fill="none"/>
<clipPath id="izc"><rect x="101.1" y="482.5" width="137.3" height="83.6"/></clipPath>
<g clip-path="url(#izc)" fill="none" stroke-linecap="round" stroke-linejoin="round">
<g filter="url(#b08)">
<g stroke="#f7f3c4" stroke-linecap="butt"><path d="M103.1 536.3L140.9 542.4" stroke-width="3.4"/><path d="M146 535.6L157.4 531.2" stroke-width="3"/><path d="M108 549L128 544" stroke-width="1.6" opacity="0.7"/><path d="M216 495L227 492" stroke-width="8" opacity="0.85"/><path d="M231.4 503L232 534" stroke-width="11" opacity="0.5"/><path d="M191 516L203 512" stroke-width="9" opacity="0.6"/><path d="M210 531.6L238 529" stroke-width="5.4" opacity="0.9"/><path d="M212 521L226 519" stroke-width="7" opacity="0.6"/><path d="M214 538L238 534.6" stroke-width="3" opacity="0.85"/><path d="M218 525L238 522.4" stroke-width="3.2" opacity="0.8"/><path d="M220 543L238 541" stroke-width="2.2" opacity="0.6"/><path d="M219 508L238 505" stroke-width="4" opacity="0.7"/><path d="M224 513.6L238 512" stroke-width="3" opacity="0.6"/><path d="M192 522L202 519.6" stroke-width="5" opacity="0.55"/></g>
<g stroke-linecap="round"><path d="M104.5 521.6L172 492.3L191 488.4L226 486.2" stroke="#cbdff4" stroke-width="7.4"/><path d="M200.7 504L210.9 492.6L227.2 487.4" stroke="#cfe2f6" stroke-width="5.6"/><path d="M134 556L133.2 552L142 548.4L155.2 540.4L170 533L186 524.6L196 516L203.4 508" stroke="#cfe2f6" stroke-width="6.2"/><path d="M110 526L113 529" stroke="#cfe2f6" stroke-width="5"/><path d="M225 499L232 500.6" stroke="#cfe2f6" stroke-width="6" opacity="0.9"/><path d="M173 526L184 529" stroke="#d3e5f8" stroke-width="9" opacity="0.8"/><path d="M105 517L116 513" stroke="#d3e5f8" stroke-width="5" opacity="0.8"/></g>
</g>
<path d="M122 511.4l1.3 -1.9l1.2 1.2zM126.6 509.41l1.3 -1.9l1.2 1.2zM131.2 507.41l1.3 -1.9l1.2 1.2zM135.8 505.42l1.3 -1.9l1.2 1.2zM140.4 503.42l1.3 -1.9l1.2 1.2zM145 501.42l1.3 -1.9l1.2 1.2zM149.6 499.43l1.3 -1.9l1.2 1.2zM154.2 497.43l1.3 -1.9l1.2 1.2zM158.8 495.43l1.3 -1.9l1.2 1.2zM163.4 493.44l1.3 -1.9l1.2 1.2zM168 491.44l1.3 -1.9l1.2 1.2zM172.6 489.44l1.3 -1.9l1.2 1.2zM177.2 487.45l1.3 -1.9l1.2 1.2zM181.8 485.45l1.3 -1.9l1.2 1.2zM186.4 483.46l1.3 -1.9l1.2 1.2z" fill="#ffffff" stroke="none" opacity="0.85"/>
<g fill="#b4cfee" stroke="none" opacity="0.45" filter="url(#b03)"><ellipse cx="112" cy="518.35" rx="1.5" ry="3.9" transform="rotate(24 112 518.35)"/><ellipse cx="116.7" cy="516.31" rx="1.5" ry="3.9" transform="rotate(24 116.7 516.31)"/><ellipse cx="121.4" cy="514.27" rx="1.5" ry="3.9" transform="rotate(24 121.4 514.27)"/><ellipse cx="126.1" cy="512.23" rx="1.5" ry="3.9" transform="rotate(24 126.1 512.23)"/><ellipse cx="130.8" cy="510.19" rx="1.5" ry="3.9" transform="rotate(24 130.8 510.19)"/><ellipse cx="135.5" cy="508.15" rx="1.5" ry="3.9" transform="rotate(24 135.5 508.15)"/><ellipse cx="140.2" cy="506.11" rx="1.5" ry="3.9" transform="rotate(24 140.2 506.11)"/><ellipse cx="144.9" cy="504.07" rx="1.5" ry="3.9" transform="rotate(24 144.9 504.07)"/><ellipse cx="149.6" cy="502.03" rx="1.5" ry="3.9" transform="rotate(24 149.6 502.03)"/><ellipse cx="154.3" cy="499.99" rx="1.5" ry="3.9" transform="rotate(24 154.3 499.99)"/><ellipse cx="159" cy="497.95" rx="1.5" ry="3.9" transform="rotate(24 159 497.95)"/><ellipse cx="163.7" cy="495.91" rx="1.5" ry="3.9" transform="rotate(24 163.7 495.91)"/><ellipse cx="168.4" cy="493.87" rx="1.5" ry="3.9" transform="rotate(24 168.4 493.87)"/><ellipse cx="173.1" cy="491.83" rx="1.5" ry="3.9" transform="rotate(24 173.1 491.83)"/><ellipse cx="177.8" cy="489.79" rx="1.5" ry="3.9" transform="rotate(24 177.8 489.79)"/><ellipse cx="182.5" cy="487.75" rx="1.5" ry="3.9" transform="rotate(24 182.5 487.75)"/><ellipse cx="187.2" cy="485.71" rx="1.5" ry="3.9" transform="rotate(24 187.2 485.71)"/><ellipse cx="176" cy="491.6" rx="1.6" ry="3.8" transform="rotate(14 176 491.6)"/><ellipse cx="181.2" cy="491.03" rx="1.6" ry="3.8" transform="rotate(14 181.2 491.03)"/><ellipse cx="186.4" cy="490.46" rx="1.6" ry="3.8" transform="rotate(14 186.4 490.46)"/><ellipse cx="191.6" cy="489.88" rx="1.6" ry="3.8" transform="rotate(14 191.6 489.88)"/><ellipse cx="196.8" cy="489.31" rx="1.6" ry="3.8" transform="rotate(14 196.8 489.31)"/><ellipse cx="202" cy="488.74" rx="1.6" ry="3.8" transform="rotate(14 202 488.74)"/><ellipse cx="207.2" cy="488.17" rx="1.6" ry="3.8" transform="rotate(14 207.2 488.17)"/><ellipse cx="212.4" cy="487.6" rx="1.6" ry="3.8" transform="rotate(14 212.4 487.6)"/><ellipse cx="140" cy="549.4" rx="1.4" ry="3.3" transform="rotate(30 140 549.4)"/><ellipse cx="144.9" cy="546.46" rx="1.4" ry="3.3" transform="rotate(30 144.9 546.46)"/><ellipse cx="149.8" cy="543.52" rx="1.4" ry="3.3" transform="rotate(30 149.8 543.52)"/><ellipse cx="154.7" cy="540.58" rx="1.4" ry="3.3" transform="rotate(30 154.7 540.58)"/><ellipse cx="159.6" cy="537.64" rx="1.4" ry="3.3" transform="rotate(30 159.6 537.64)"/><ellipse cx="164.5" cy="534.7" rx="1.4" ry="3.3" transform="rotate(30 164.5 534.7)"/><ellipse cx="169.4" cy="531.76" rx="1.4" ry="3.3" transform="rotate(30 169.4 531.76)"/><ellipse cx="174.3" cy="528.82" rx="1.4" ry="3.3" transform="rotate(30 174.3 528.82)"/><ellipse cx="179.2" cy="525.88" rx="1.4" ry="3.3" transform="rotate(30 179.2 525.88)"/><ellipse cx="184.1" cy="522.94" rx="1.4" ry="3.3" transform="rotate(30 184.1 522.94)"/><ellipse cx="189" cy="520" rx="1.4" ry="3.3" transform="rotate(30 189 520)"/><ellipse cx="193.9" cy="517.06" rx="1.4" ry="3.3" transform="rotate(30 193.9 517.06)"/><ellipse cx="198.8" cy="514.12" rx="1.4" ry="3.3" transform="rotate(30 198.8 514.12)"/></g>
<path d="M101 500C110 505 116 512 122 516M150 486C158 484 164 488 160 493M172 488C180 484 190 486 196 492M160 520C170 515 178 512 184 516C188 520 180 526 176 530M104 546C112 552 124 556 132 552M150 548C160 552 172 550 176 544M196 536C204 540 216 548 222 546M184 500C188 506 192 510 198 508" stroke="#9cc4ee" stroke-width="0.4"/>
<path d="M135 492C140 498 138 504 132 507C128 510 132 516 136 518M108 528C114 524 122 526 126 530M110 554C118 548 128 546 136 548M146 522C152 516 160 514 166 518C170 522 164 528 158 530M104 558C112 556 118 560 124 558M200 528C208 524 214 530 220 526" stroke="#ece68a" stroke-width="0.45"/>
<path d="M126.6 489.2L130 490M130 490L133 489.4M133 489.4L135.4 491.4M135.4 491.4L134.8 493.2M124.2 515.5L126.6 514.2M126.6 514.2L128.2 516.6M128.2 516.6L127.4 520M127.4 520L125 520.8M125 520.8L124.2 515.5M113.4 536.3L116.5 537M116.5 537L119 534M119 534L123.3 531.6M116.5 537L117 539M120 548.4L122.4 550.6M122.4 550.6L121.5 552.6M122.4 550.6L125.5 553.9M132 538.2L134 537.6M134 537.6L135.8 541.4M134 537.6L134.6 535.2M120 526L123 528.6M123 528.6L126 531.4M196 516L199 517.6M199 517.6L202 516M207.4 497.4L210.4 500.8M210.4 500.8L211.4 504M211 519L212.6 524M212.6 524L211 528.6M212.6 524L215 522.4M222 519.6L226 517.4M226 517.4L228.6 514.6M206.4 531L209 529.4M196 495L198 497.6" stroke="#d6d61a" stroke-width="1.25"/>
<path d="M139.8 485.7L142.6 488M142.6 488L145.3 487M142.6 488L142.8 490.4M114.5 519.8L118 524M118 524L119.6 527.4M116.2 521.6L119.8 520.8M120.8 519.4L124 524.4M124 524.4L127.7 529.7M124 524.4L126 523M145.6 534.4L146.6 538M146.6 538L150 539.6M150 539.6L153 538M150 539.6L150.6 542.8M139.8 546.2L142.4 548M142.4 548L145.3 546.8M142.4 548L142.6 550.6M123.8 561.6L125.6 560M125.6 560L127 557.4M125.6 560L125.2 563.8M159.6 532.8L163 533.2M163 533.2L166 531.4M166 531.4L168.4 533.6M166 531.4L166.4 528.6M168 526.4L171.4 528M171.4 528L174.4 526.4M177.4 518L180 521M180 521L184.4 520.6M180 521L179.6 524M192 492L195 494M195 494L198.4 493.4M190.6 498.4L193.4 500M193.4 500L195.6 497M211.6 505L214 507.6M214 507.6L216.4 505.4M208 510L208.6 514.4M208.6 514.4L207 517.4M217 518.6L219 522.4M219 522.4L221.4 523M202.4 528.6L204.8 532M204.8 532L203.4 536M204.8 532L208 534M208 534L209.4 538M206 541L209.4 538" stroke="#1f63d6" stroke-width="1.25"/>
<g fill="#e83030" stroke="none"><circle cx="145.4" cy="486.8" r="0.55"/><circle cx="126.2" cy="523" r="0.55"/><circle cx="120.2" cy="531" r="0.55"/><circle cx="123.4" cy="531.4" r="0.55"/><circle cx="153.2" cy="537.8" r="0.55"/><circle cx="139.6" cy="546" r="0.55"/><circle cx="159.4" cy="532.6" r="0.55"/><circle cx="184.6" cy="520.4" r="0.55"/><circle cx="198.6" cy="493.2" r="0.55"/><circle cx="216.6" cy="505.2" r="0.55"/><circle cx="206.2" cy="541.2" r="0.55"/><circle cx="202.2" cy="528.4" r="0.55"/><circle cx="191" cy="498.2" r="0.55"/><circle cx="211.6" cy="528.8" r="0.55"/><circle cx="228.8" cy="514.4" r="0.55"/></g>
</g>
<g font-size="2.5" text-anchor="middle" fill="#111">
<text x="127.8" y="493.8" transform="rotate(0.03 127.8 493.8)">SER 74</text>
<text x="146.8" y="484.8" transform="rotate(0.03 146.8 484.8)">GLN 303</text>
<text x="126" y="511.6" transform="rotate(0.03 126 511.6)">PHE 554</text>
<text x="109.2" y="520" transform="rotate(0.03 109.2 520)">ARG 540</text>
<text x="111" y="526.4" transform="rotate(0.03 111 526.4)">GLU 555</text>
<text x="133.2" y="526.4" transform="rotate(0.03 133.2 526.4)">ARG 537</text>
<text x="127.2" y="533" transform="rotate(0.03 127.2 533)">ASP 75</text>
<text x="114.4" y="541.6" transform="rotate(0.03 114.4 541.6)">GLU 72</text>
<text x="130" y="542.6" transform="rotate(0.03 130 542.6)">ARG 76</text>
<text x="143.6" y="541.4" transform="rotate(0.03 143.6 541.4)">LYS 557</text>
<text x="155.6" y="542.2" transform="rotate(0.03 155.6 542.2)">GLU 558</text>
<text x="118" y="550.6" transform="rotate(0.03 118 550.6)">LYS 79</text>
<text x="142.4" y="552.2" transform="rotate(0.03 142.4 552.2)">ARG 579</text>
<text x="118" y="560.4" transform="rotate(0.03 118 560.4)">ARG 575</text>
<text x="159.8" y="526.8" transform="rotate(0.03 159.8 526.8)">ARG 65</text>
<text x="157" y="529.8" transform="rotate(0.03 157 529.8)">GLU 562</text>
<text x="178.4" y="516" transform="rotate(0.03 178.4 516)">ASN 566</text>
<text x="179.6" y="531.6" transform="rotate(0.03 179.6 531.6)">GLU 67</text>
<text x="169.6" y="524.6" transform="rotate(0.03 169.6 524.6)">ARG 563</text>
<text x="195.8" y="488.6" transform="rotate(0.03 195.8 488.6)">GLN 281</text>
<text x="185" y="496.8" transform="rotate(0.03 185 496.8)">SER 282</text>
<text x="192.6" y="502.8" transform="rotate(0.03 192.6 502.8)">ASN 57</text>
<text x="211.4" y="494.8" transform="rotate(0.03 211.4 494.8)">THR 224</text>
<text x="215.4" y="500.6" transform="rotate(0.03 215.4 500.6)">THR 55</text>
<text x="219" y="507.4" transform="rotate(0.03 219 507.4)">GLN 52</text>
<text x="204.6" y="509.8" transform="rotate(0.03 204.6 509.8)">LYS 48</text>
<text x="194.2" y="512.8" transform="rotate(0.03 194.2 512.8)">THR 221</text>
<text x="217" y="516" transform="rotate(0.03 217 516)">ASN 334</text>
<text x="228.6" y="515.6" transform="rotate(0.03 228.6 515.6)">TYR 49</text>
<text x="205.6" y="522.2" transform="rotate(0.03 205.6 522.2)">LYS 337</text>
<text x="226.4" y="524.6" transform="rotate(0.03 226.4 524.6)">TRP 341</text>
<text x="217.4" y="527.6" transform="rotate(0.03 217.4 527.6)">GLU 341</text>
<text x="203.8" y="527.6" transform="rotate(0.03 203.8 527.6)">THR 221</text>
<text x="197" y="531.6" transform="rotate(0.03 197 531.6)">ARG 280</text>
<text x="213.4" y="533.4" transform="rotate(0.03 213.4 533.4)">THR 279</text>
<text x="196.8" y="538.4" transform="rotate(0.03 196.8 538.4)">ASN 283</text>
<text x="212.4" y="541.4" transform="rotate(0.03 212.4 541.4)">GLY 279</text>
</g>
<rect x="101.1" y="482.5" width="137.3" height="83.6" fill="none" stroke="#4a4a4a" stroke-width="0.9" stroke-dasharray="3.3 2.4"/>
</g>
<defs>
<filter id="bb" x="-30%" y="-80%" width="160%" height="260%"><feGaussianBlur stdDeviation="1.2 0.75"/></filter>
<filter id="bb2" x="-30%" y="-80%" width="160%" height="260%"><feGaussianBlur stdDeviation="1.8 1.3"/></filter>
<filter id="c1" x="-20%" y="-20%" width="140%" height="140%"><feGaussianBlur stdDeviation="1.1"/></filter>
<filter id="c2" x="-20%" y="-20%" width="140%" height="140%"><feGaussianBlur stdDeviation="2.2"/></filter>
<filter id="c4" x="-20%" y="-20%" width="140%" height="140%"><feGaussianBlur stdDeviation="1.5"/></filter>
<filter id="c3" x="-20%" y="-20%" width="140%" height="140%"><feGaussianBlur stdDeviation="1.0"/></filter>
<path id="cfill" d="M622 450L628 454L634 456.4L642 458L650 450.6L660.5 447L651.4 456.6L643.4 462L636.4 468.4L635.4 474.6L629 471.4L622.4 465.4Z"/>
<g id="cedge" fill="none" stroke-linecap="round" stroke-linejoin="round"><path d="M607 466.6C611 466.4 614 467.4 617 466.8C620 466.2 622 465 623.4 464.2C622.4 459 622.4 455 622.7 449.8"/><path d="M622.7 449.8C625.4 452 628 454.4 631.4 456C634.4 457.6 636.6 459.8 640 458.4C643.4 456.6 646.4 453.4 649.8 451C652.4 449.6 655 449 657 448.9L660.6 446.8"/><path d="M659 449C656 452.4 653.6 455 651.2 456.9C648.6 458.9 646.4 460.2 643.9 461.3C640 463.4 636.4 467 633.9 471.5"/><path d="M623.4 464.2C625.6 467 627.4 469.4 629.3 470.8C631.4 472 633.4 472.6 635.2 474.4"/></g>
<g id="ctail" fill="none" stroke-linecap="round" stroke-linejoin="round"><path d="M575 481C579 475.6 584 471.6 590 469.8C594 468.6 598.4 468.4 603 467.4L608 466.6"/></g>
<path id="carm" fill="none" stroke-linecap="round" d="M641 460C645 456.6 649 453 652.4 451C655 449.6 657 449 659 448"/>
<path id="ctail2" fill="none" stroke-linecap="round" d="M635.2 474.4C636.4 478 637.6 481.4 639.3 484.4"/>
<linearGradient id="tailfade" gradientUnits="userSpaceOnUse" x1="572" y1="0" x2="610" y2="0"><stop offset="0" stop-color="#fff" stop-opacity="0.15"/><stop offset="0.35" stop-color="#fff" stop-opacity="0.6"/><stop offset="1" stop-color="#fff" stop-opacity="1"/></linearGradient>
<mask id="tailmask" maskUnits="userSpaceOnUse" x="560" y="430" width="120" height="70"><rect x="560" y="430" width="120" height="70" fill="url(#tailfade)"/></mask>
<g id="nuclei"><ellipse cx="490.4" cy="471.2" rx="8.2" ry="3.9" transform="rotate(-17 490.4 471.2)"/><ellipse cx="514.8" cy="467.0" rx="6.2" ry="3.3" transform="rotate(-14 514.8 467)"/><ellipse cx="524.9" cy="454.6" rx="5.0" ry="5.9" transform="rotate(-20 524.9 454.6)"/><ellipse cx="532.2" cy="460.0" rx="5.2" ry="2.9" transform="rotate(-24 532.2 460)"/><ellipse cx="528.2" cy="469.0" rx="5.8" ry="2.5" transform="rotate(30 528.2 469)"/><ellipse cx="546.8" cy="452.0" rx="7.2" ry="5.4" transform="rotate(-32 546.8 452)"/></g>
</defs>
<g>
<text x="375.9" y="471" font-size="12" text-anchor="middle" transform="rotate(0.03 375.9 471)">IP</text>
<line x1="354.8" y1="473.7" x2="398.2" y2="473.7" stroke="#000" stroke-width="1.9"/>
<text x="320.4" y="486.6" font-size="12" transform="rotate(0.03 320.4 486.6)">Input</text>
<text x="354.2" y="486.6" font-size="12" transform="rotate(0.03 354.2 486.6)">Igg</text>
<text x="377.4" y="486.6" font-size="12" transform="rotate(0.03 377.4 486.6)">Flag</text>
<text x="312.4" y="507" font-size="12" text-anchor="end" transform="rotate(0.03 312.4 507)">HPIP</text>
<text x="312.6" y="535.7" font-size="12" text-anchor="end" transform="rotate(0.03 312.6 535.7)">ELTD1-Flag</text>
<rect x="316.4" y="491.7" width="85.2" height="24" fill="#f5f5f5"/>
<g filter="url(#bb)">
<rect x="321.8" y="502.5" width="19.2" height="4.6" fill="#000" rx="2.3"/>
<rect x="375.8" y="502.5" width="20" height="4.6" fill="#000" rx="2.3"/>
</g>
<g filter="url(#bb2)">
<rect x="352.6" y="497.9" width="12.4" height="2.4" fill="#8a8a8a" rx="1.2"/>
<rect x="355.6" y="498.1" width="5.2" height="2.4" fill="#2a2a2a" rx="1.2"/>
<rect x="322" y="495.2" width="19" height="1.5" fill="#d4d4d4"/>
<rect x="376" y="495.2" width="19.6" height="1.5" fill="#d8d8d8"/>
</g>
<rect x="316.4" y="491.7" width="85.2" height="24" fill="none" stroke="#2e1e1e" stroke-width="1.6"/>
<rect x="316.4" y="519.3" width="85.2" height="24.5" fill="#f7f7f7"/>
<g filter="url(#bb)">
<rect x="324" y="529" width="20.8" height="4.6" fill="#000" rx="2.3"/>
<rect x="377" y="529" width="18.4" height="2.6" fill="#a8a8a8" rx="1.3"/>
</g>
<rect x="316.4" y="519.3" width="85.2" height="24.5" fill="none" stroke="#2e1e1e" stroke-width="1.6"/>
<line x1="401.6" y1="497.3" x2="407.6" y2="497.3" stroke="#000" stroke-width="2.1"/>
<line x1="401.6" y1="523.4" x2="407.6" y2="523.4" stroke="#000" stroke-width="2.1"/>
<text x="407.9" y="502.6" font-size="12" transform="rotate(0.03 407.9 502.6)">70 kDa</text>
<text x="407.9" y="528" font-size="12" transform="rotate(0.03 407.9 528)">55 kDa</text>
</g>
<g>
<rect x="465.9" y="405.9" width="99.9" height="99.5" fill="#000"/>
<rect x="465.9" y="508.2" width="99.9" height="99.5" fill="#000"/>
<rect x="568.4" y="405.9" width="99.9" height="99.5" fill="#000"/>
<rect x="568.4" y="508.2" width="99.9" height="99.5" fill="#000"/>
<use href="#nuclei" fill="#1010e8" filter="url(#c4)"/>
<use href="#nuclei" fill="#1a1aff" filter="url(#c3)" opacity="0.75"/>
<g mask="url(#tailmask)" opacity="1">
<g filter="url(#c2)"><use href="#cfill" fill="#a80000" opacity="0.5"/><use href="#ctail" stroke="#a80000" stroke-width="5.6" opacity="0.95"/><use href="#ctail2" stroke="#a80000" stroke-width="3.8" opacity="0.75"/><use href="#carm" stroke="#a80000" stroke-width="5.4" opacity="0.8"/><use href="#cedge" stroke="#a80000" stroke-width="3.6" opacity="0.6"/></g>
<g filter="url(#c1)"><use href="#ctail" stroke="#e00808" stroke-width="2.4" opacity="0.3"/><use href="#ctail2" stroke="#e00808" stroke-width="1.6" opacity="0.45"/><use href="#cedge" stroke="#e00808" stroke-width="1.8" opacity="0.62"/><circle cx="622.8" cy="450.2" r="2.1" fill="#ff1212"/><ellipse cx="656.2" cy="449.4" rx="3.3" ry="2" transform="rotate(-28 656.2 449.4)" fill="#ff1212"/><circle cx="634.2" cy="472.2" r="1.8" fill="#ff1212"/><ellipse cx="614" cy="467" rx="4.5" ry="1.2" fill="#ff1212" opacity="0.75"/><ellipse cx="640" cy="462.4" rx="4" ry="1.1" transform="rotate(-32 640 462.4)" fill="#ff1212" opacity="0.7"/><ellipse cx="630.8" cy="457.2" rx="3" ry="2.2" fill="#000" opacity="0.45"/></g>
</g>
<g transform="translate(-102.5 102.3)">
<g mask="url(#tailmask)" opacity="0.95">
<g filter="url(#c2)"><use href="#cfill" fill="#0c6c0c" opacity="0.5"/><use href="#ctail" stroke="#0c6c0c" stroke-width="5.6" opacity="0.95"/><use href="#ctail2" stroke="#0c6c0c" stroke-width="3.8" opacity="0.75"/><use href="#carm" stroke="#0c6c0c" stroke-width="5.4" opacity="0.8"/><use href="#cedge" stroke="#0c6c0c" stroke-width="3.6" opacity="0.6"/></g>
<g filter="url(#c1)"><use href="#ctail" stroke="#189818" stroke-width="2.4" opacity="0.3"/><use href="#ctail2" stroke="#189818" stroke-width="1.6" opacity="0.45"/><use href="#cedge" stroke="#189818" stroke-width="1.8" opacity="0.62"/><circle cx="622.8" cy="450.2" r="2.1" fill="#28b828"/><ellipse cx="656.2" cy="449.4" rx="3.3" ry="2" transform="rotate(-28 656.2 449.4)" fill="#28b828"/><circle cx="634.2" cy="472.2" r="1.8" fill="#28b828"/><ellipse cx="614" cy="467" rx="4.5" ry="1.2" fill="#28b828" opacity="0.75"/><ellipse cx="640" cy="462.4" rx="4" ry="1.1" transform="rotate(-32 640 462.4)" fill="#28b828" opacity="0.7"/><ellipse cx="630.8" cy="457.2" rx="3" ry="2.2" fill="#000" opacity="0.45"/></g>
</g>
</g>
<g transform="translate(0 102.3)">
<g mask="url(#tailmask)" opacity="1">
<g filter="url(#c2)"><use href="#cfill" fill="#b02c00" opacity="0.5"/><use href="#ctail" stroke="#b02c00" stroke-width="5.6" opacity="0.95"/><use href="#ctail2" stroke="#b02c00" stroke-width="3.8" opacity="0.75"/><use href="#carm" stroke="#b02c00" stroke-width="5.4" opacity="0.8"/><use href="#cedge" stroke="#b02c00" stroke-width="3.6" opacity="0.6"/></g>
<g filter="url(#c1)"><use href="#ctail" stroke="#e84408" stroke-width="2.4" opacity="0.3"/><use href="#ctail2" stroke="#e84408" stroke-width="1.6" opacity="0.45"/><use href="#cedge" stroke="#e84408" stroke-width="1.8" opacity="0.62"/><circle cx="622.8" cy="450.2" r="2.1" fill="#ff6a10"/><ellipse cx="656.2" cy="449.4" rx="3.3" ry="2" transform="rotate(-28 656.2 449.4)" fill="#ff6a10"/><circle cx="634.2" cy="472.2" r="1.8" fill="#ff6a10"/><ellipse cx="614" cy="467" rx="4.5" ry="1.2" fill="#ff6a10" opacity="0.75"/><ellipse cx="640" cy="462.4" rx="4" ry="1.1" transform="rotate(-32 640 462.4)" fill="#ff6a10" opacity="0.7"/><ellipse cx="630.8" cy="457.2" rx="3" ry="2.2" fill="#000" opacity="0.45"/></g>
</g>
<g transform="translate(102.5 0)"><use href="#nuclei" fill="#2a2af8" filter="url(#c4)"/><use href="#nuclei" fill="#3434ff" filter="url(#c3)" opacity="0.8"/></g>
</g>
<text x="471.3" y="419.6" font-size="11.8" fill="#1414ff" transform="rotate(0.03 471.3 419.6)" stroke="#1414ff" stroke-width="0.35">DAPI</text>
<text x="573.6" y="419.6" font-size="11.8" fill="#f00808" transform="rotate(0.03 573.6 419.6)" stroke="#f00808" stroke-width="0.25">ELTD1</text>
<text x="470.6" y="522.3" font-size="11.8" fill="#00e000" transform="rotate(0.03 470.6 522.3)" stroke="#00e000" stroke-width="0.25">HPIP</text>
<text x="573.6" y="522.3" font-size="11.8" fill="#e8e000" transform="rotate(0.03 573.6 522.3)" stroke="#e8e000" stroke-width="0.25">Merge</text>
<rect x="618" y="594.5" width="45.2" height="3.7" fill="#fff"/>
<text x="576.4" y="618.3" font-size="12" fill="#2a2a2a" transform="rotate(0.03 576.4 618.3)">Scale bar=50 μm</text>
</g>
<g>
<rect x="75.6" y="649.9" width="12.9" height="2.8" fill="#00007c"/>
<text x="91.6" y="655.6" font-size="12.2" transform="rotate(0.03 91.6 655.6)">H1-ELTD1-Ctrl</text>
<rect x="75.6" y="662.9" width="12.9" height="2.8" fill="#0000f5"/>
<text x="91.6" y="668.6" font-size="12.2" transform="rotate(0.03 91.6 668.6)">H1-ELTD1-OE</text>
<rect x="75.6" y="674.3" width="12.9" height="2.8" fill="#55a0f8"/>
<text x="91.6" y="680" font-size="12.2" transform="rotate(0.03 91.6 680)">H1-ELTD1-OE+HPIP-sh1</text>
<rect x="75.6" y="686.8" width="12.9" height="2.8" fill="#c6dcf8"/>
<text x="91.6" y="692.5" font-size="12.2" transform="rotate(0.03 91.6 692.5)">H1-ELTD1-OE+HPIP-sh2</text>
<path d="M65.6 705.6V823.6H178.8" stroke="#000" stroke-width="1.3" fill="none"/>
<path d="M62.9 705.6H65.6M62.9 745H65.6M62.9 784.3H65.6M62.9 823.6H65.6" stroke="#000" stroke-width="1.3" fill="none"/>
<g font-size="12" text-anchor="end">
<text x="61.3" y="709.5" transform="rotate(0.03 61.3 709.5)">1.5</text>
<text x="61.3" y="748.9" transform="rotate(0.03 61.3 748.9)">1.0</text>
<text x="61.3" y="788.2" transform="rotate(0.03 61.3 788.2)">0.5</text>
<text x="61.3" y="827.5" transform="rotate(0.03 61.3 827.5)">0.0</text>
</g>
<text x="37.9" y="764.6" font-size="12.15" text-anchor="middle" transform="rotate(-90 37.9 764.6)">Relative mRNA level</text>
<rect x="75.1" y="745.4" width="17.2" height="78.2" fill="#00007c"/>
<path d="M83.7 745.9V741.2M79.4 741.2H88" stroke="#000" stroke-width="1.3" fill="none"/>
<rect x="100.9" y="759" width="17.6" height="64.6" fill="#0000f5"/>
<path d="M109.7 759.5V753.1M105.3 753.1H114.1" stroke="#000" stroke-width="1.3" fill="none"/>
<rect x="127" y="794.3" width="17.6" height="29.3" fill="#55a0f8"/>
<path d="M135.8 794.8V790.1M131.4 790.1H140.2" stroke="#000" stroke-width="1.3" fill="none"/>
<rect x="153.3" y="779.4" width="17.6" height="44.2" fill="#c6dcf8"/>
<path d="M162.1 779.9V777.2M157.7 777.2H166.5" stroke="#000" stroke-width="1.3" fill="none"/>
<line x1="83.1" y1="726.2" x2="162" y2="726.2" stroke="#000" stroke-width="1.5"/>
<text x="122" y="728.1" font-size="12.5" text-anchor="middle" transform="rotate(0.03 122 728.1)" stroke="#000" stroke-width="0.25">**</text>
<line x1="83.1" y1="735.2" x2="135.9" y2="735.2" stroke="#000" stroke-width="1.5"/>
<text x="110.8" y="737.2" font-size="12.5" text-anchor="middle" transform="rotate(0.03 110.8 737.2)" stroke="#000" stroke-width="0.25">***</text>
<text x="124.2" y="835.8" font-size="12" text-anchor="middle" transform="rotate(0.03 124.2 835.8)">HPIP</text>
</g>
<g>
<rect x="284.1" y="649.7" width="12.9" height="2.8" fill="#fddcb8"/>
<text x="300.1" y="655.4" font-size="12.2" transform="rotate(0.03 300.1 655.4)">H1-ELTD1-Ctrl</text>
<rect x="284.1" y="662.9" width="12.9" height="2.8" fill="#ff9f40"/>
<text x="300.1" y="668.6" font-size="12.2" transform="rotate(0.03 300.1 668.6)">H1-ELTD1-OE</text>
<rect x="284.1" y="674.2" width="12.9" height="2.8" fill="#ff5f00"/>
<text x="300.1" y="679.9" font-size="12.2" transform="rotate(0.03 300.1 679.9)">H1-ELTD1-OE+HPIP-sh1</text>
<rect x="284.1" y="687" width="12.9" height="2.8" fill="#c05c00"/>
<text x="300.1" y="692.7" font-size="12.2" transform="rotate(0.03 300.1 692.7)">H1-ELTD1-OE+HPIP-sh2</text>
<path d="M276.9 705.4V823.6H391.6" stroke="#000" stroke-width="1.3" fill="none"/>
<path d="M274 705.4H276.9M274 735H276.9M274 764.5H276.9M274 794H276.9M274 823.6H276.9" stroke="#000" stroke-width="1.3" fill="none"/>
<g font-size="12" text-anchor="end">
<text x="272.7" y="709.3" transform="rotate(0.03 272.7 709.3)">8</text>
<text x="272.7" y="738.9" transform="rotate(0.03 272.7 738.9)">6</text>
<text x="272.7" y="768.4" transform="rotate(0.03 272.7 768.4)">4</text>
<text x="272.7" y="797.9" transform="rotate(0.03 272.7 797.9)">2</text>
<text x="272.7" y="827.5" transform="rotate(0.03 272.7 827.5)">0</text>
</g>
<text x="256.5" y="764.6" font-size="12.15" text-anchor="middle" transform="rotate(-90 256.5 764.6)">Relative mRNA level</text>
<rect x="285.4" y="808.9" width="17.4" height="14.7" fill="#fddcb8"/>
<path d="M294.1 809.4V807.4M289.75 807.4H298.45" stroke="#000" stroke-width="1.3" fill="none"/>
<rect x="312" y="736.7" width="17.4" height="86.9" fill="#ff9f40"/>
<path d="M320.7 737.2V733.7M316.35 733.7H325.05" stroke="#000" stroke-width="1.3" fill="none"/>
<rect x="338.3" y="757" width="17.5" height="66.6" fill="#ff5f00"/>
<path d="M347.05 757.5V753.8M342.68 753.8H351.43" stroke="#000" stroke-width="1.3" fill="none"/>
<rect x="364.6" y="759.5" width="17.4" height="64.1" fill="#c05c00"/>
<path d="M373.3 760V750.1M368.95 750.1H377.65" stroke="#000" stroke-width="1.3" fill="none"/>
<line x1="293.8" y1="709.2" x2="372.9" y2="709.2" stroke="#000" stroke-width="1.5"/>
<text x="333.6" y="709.32" font-size="11.2" text-anchor="middle" transform="rotate(0.03 333.6 709.32)" stroke="#000" stroke-width="0.25">***</text>
<line x1="293.8" y1="718.6" x2="347" y2="718.6" stroke="#000" stroke-width="1.5"/>
<text x="321.8" y="719.62" font-size="11.2" text-anchor="middle" transform="rotate(0.03 321.8 719.62)" stroke="#000" stroke-width="0.25">***</text>
<line x1="293.8" y1="727.8" x2="319.7" y2="727.8" stroke="#000" stroke-width="1.5"/>
<text x="307.6" y="728.82" font-size="11.2" text-anchor="middle" transform="rotate(0.03 307.6 728.82)" stroke="#000" stroke-width="0.25">***</text>
<text x="336.8" y="835.8" font-size="12" text-anchor="middle" transform="rotate(0.03 336.8 835.8)">ELTD1</text>
</g>
<g>
<rect x="495.4" y="650.3" width="12.9" height="2.8" fill="#000000"/>
<text x="511.9" y="656" font-size="12.2" transform="rotate(0.03 511.9 656)">H1-ELTD1-Ctrl</text>
<rect x="495.4" y="663.6" width="12.9" height="2.8" fill="#00c000"/>
<text x="511.9" y="669.3" font-size="12.2" transform="rotate(0.03 511.9 669.3)">H1-ELTD1-OE</text>
<rect x="495.4" y="676.6" width="12.9" height="2.8" fill="#55a0f8"/>
<text x="511.9" y="682.3" font-size="12.2" transform="rotate(0.03 511.9 682.3)">H1-ELTD1-OE+HPIP-sh1</text>
<rect x="495.4" y="689.7" width="12.9" height="2.8" fill="#0000f0"/>
<text x="511.9" y="695.4" font-size="12.2" transform="rotate(0.03 511.9 695.4)">H1-ELTD1-OE+HPIP-sh2</text>
<path d="M490 704.28V823H668.9" stroke="#000" stroke-width="1.3" fill="none"/>
<path d="M486.8 704.28H490M486.8 733.96H490M486.8 763.64H490M486.8 793.32H490M486.8 823H490" stroke="#000" stroke-width="1.3" fill="none"/>
<g font-size="12" text-anchor="end">
<text x="485.5" y="708.18" transform="rotate(0.03 485.5 708.18)">2.0</text>
<text x="485.5" y="737.86" transform="rotate(0.03 485.5 737.86)">1.5</text>
<text x="485.5" y="767.54" transform="rotate(0.03 485.5 767.54)">1.0</text>
<text x="485.5" y="797.22" transform="rotate(0.03 485.5 797.22)">0.5</text>
<text x="485.5" y="826.9" transform="rotate(0.03 485.5 826.9)">0.0</text>
</g>
<text x="462.6" y="764.6" font-size="12" text-anchor="middle" transform="rotate(-90 462.6 764.6)">Relative mRNA level</text>
<rect x="493" y="764.4" width="6.5" height="58.6" fill="#000000"/>
<path d="M496.25 764.9V759.3M494.35 759.3H498.15" stroke="#000" stroke-width="1.3" fill="none"/>
<rect x="502.72" y="740.9" width="6.5" height="82.1" fill="#00c000"/>
<path d="M505.97 741.4V738.8M504.07 738.8H507.87" stroke="#000" stroke-width="1.3" fill="none"/>
<rect x="512.44" y="767.2" width="6.5" height="55.8" fill="#55a0f8"/>
<path d="M515.69 767.7V762.7M513.79 762.7H517.59" stroke="#000" stroke-width="1.3" fill="none"/>
<rect x="522.16" y="772" width="6.5" height="51" fill="#0000f0"/>
<path d="M525.41 772.5V767.8M523.51 767.8H527.31" stroke="#000" stroke-width="1.3" fill="none"/>
<rect x="538.4" y="764.4" width="6.5" height="58.6" fill="#000000"/>
<path d="M541.65 764.9V759.8M539.75 759.8H543.55" stroke="#000" stroke-width="1.3" fill="none"/>
<rect x="548.12" y="727.4" width="6.5" height="95.6" fill="#00c000"/>
<path d="M551.37 727.9V725.1M549.47 725.1H553.27" stroke="#000" stroke-width="1.3" fill="none"/>
<rect x="557.84" y="749.2" width="6.5" height="73.8" fill="#55a0f8"/>
<path d="M561.09 749.7V742.6M559.19 742.6H562.99" stroke="#000" stroke-width="1.3" fill="none"/>
<rect x="567.56" y="772.2" width="6.5" height="50.8" fill="#0000f0"/>
<path d="M570.81 772.7V765.9M568.91 765.9H572.71" stroke="#000" stroke-width="1.3" fill="none"/>
<rect x="583.6" y="764.4" width="6.5" height="58.6" fill="#000000"/>
<path d="M586.85 764.9V762.1M584.95 762.1H588.75" stroke="#000" stroke-width="1.3" fill="none"/>
<rect x="593.32" y="747.3" width="6.5" height="75.7" fill="#00c000"/>
<path d="M596.57 747.8V743.1M594.67 743.1H598.47" stroke="#000" stroke-width="1.3" fill="none"/>
<rect x="603.04" y="764.4" width="6.5" height="58.6" fill="#55a0f8"/>
<path d="M606.29 764.9V757.9M604.39 757.9H608.19" stroke="#000" stroke-width="1.3" fill="none"/>
<rect x="612.76" y="772" width="6.5" height="51" fill="#0000f0"/>
<path d="M616.01 772.5V771.2M614.11 771.2H617.91" stroke="#000" stroke-width="1.3" fill="none"/>
<rect x="629" y="764.4" width="6.5" height="58.6" fill="#000000"/>
<path d="M632.25 764.9V762.7M630.35 762.7H634.15" stroke="#000" stroke-width="1.3" fill="none"/>
<rect x="638.72" y="739" width="6.5" height="84" fill="#00c000"/>
<path d="M641.97 739.5V734.6M640.07 734.6H643.87" stroke="#000" stroke-width="1.3" fill="none"/>
<rect x="648.44" y="753.6" width="6.5" height="69.4" fill="#55a0f8"/>
<path d="M651.69 754.1V741.6M649.79 741.6H653.59" stroke="#000" stroke-width="1.3" fill="none"/>
<rect x="658.16" y="778.8" width="6.5" height="44.2" fill="#0000f0"/>
<path d="M661.41 779.3V772M659.51 772H663.31" stroke="#000" stroke-width="1.3" fill="none"/>
<line x1="496.2" y1="732.8" x2="506.7" y2="732.8" stroke="#000" stroke-width="1.5"/>
<text x="502.1" y="735.5" font-size="12.3" text-anchor="middle" transform="rotate(0.03 502.1 735.5)" stroke="#000" stroke-width="0.25">***</text>
<line x1="505.5" y1="726.1" x2="515.6" y2="726.1" stroke="#000" stroke-width="1.5"/>
<text x="511.4" y="728.3" font-size="12.3" text-anchor="middle" transform="rotate(0.03 511.4 728.3)" stroke="#000" stroke-width="0.25">***</text>
<line x1="506" y1="718.3" x2="525.9" y2="718.3" stroke="#000" stroke-width="1.5"/>
<text x="516.3" y="720.5" font-size="12.3" text-anchor="middle" transform="rotate(0.03 516.3 720.5)" stroke="#000" stroke-width="0.25">***</text>
<line x1="542.2" y1="721.3" x2="552" y2="721.3" stroke="#000" stroke-width="1.5"/>
<text x="547.5" y="724.2" font-size="12.3" text-anchor="middle" transform="rotate(0.03 547.5 724.2)" stroke="#000" stroke-width="0.25">***</text>
<line x1="551.1" y1="713.8" x2="561" y2="713.8" stroke="#000" stroke-width="1.5"/>
<text x="556.1" y="716.5" font-size="12.3" text-anchor="middle" transform="rotate(0.03 556.1 716.5)" stroke="#000" stroke-width="0.25">**</text>
<line x1="551.1" y1="705.8" x2="571.2" y2="705.8" stroke="#000" stroke-width="1.5"/>
<text x="561.6" y="708.7" font-size="12.3" text-anchor="middle" transform="rotate(0.03 561.6 708.7)" stroke="#000" stroke-width="0.25">***</text>
<line x1="586.8" y1="737.7" x2="597.1" y2="737.7" stroke="#000" stroke-width="1.5"/>
<text x="592.9" y="740.8" font-size="12.3" text-anchor="middle" transform="rotate(0.03 592.9 740.8)" stroke="#000" stroke-width="0.25">**</text>
<line x1="595.4" y1="731" x2="605.9" y2="731" stroke="#000" stroke-width="1.5"/>
<text x="600.5" y="733.3" font-size="12.3" text-anchor="middle" transform="rotate(0.03 600.5 733.3)" stroke="#000" stroke-width="0.25">**</text>
<line x1="594.8" y1="722.3" x2="615.7" y2="722.3" stroke="#000" stroke-width="1.5"/>
<text x="605.6" y="725" font-size="12.3" text-anchor="middle" transform="rotate(0.03 605.6 725)" stroke="#000" stroke-width="0.25">***</text>
<line x1="632.2" y1="729.6" x2="642" y2="729.6" stroke="#000" stroke-width="1.5"/>
<text x="637.2" y="732.4" font-size="12.3" text-anchor="middle" transform="rotate(0.03 637.2 732.4)" stroke="#000" stroke-width="0.25">**</text>
<line x1="641.5" y1="722.5" x2="651.6" y2="722.5" stroke="#000" stroke-width="1.5"/>
<text x="646.4" y="725.5" font-size="12.3" text-anchor="middle" transform="rotate(0.03 646.4 725.5)" stroke="#000" stroke-width="0.25">*</text>
<line x1="642" y1="715.1" x2="663" y2="715.1" stroke="#000" stroke-width="1.5"/>
<text x="652.7" y="718.1" font-size="12.3" text-anchor="middle" transform="rotate(0.03 652.7 718.1)" stroke="#000" stroke-width="0.25">***</text>
<g font-size="12">
<text x="489.7" y="836.2" transform="rotate(0.03 489.7 836.2)">TCF7L1</text>
<text x="536.9" y="836.2" transform="rotate(0.03 536.9 836.2)">CCND1</text>
<text x="585.4" y="836.2" transform="rotate(0.03 585.4 836.2)">BIRC5</text>
<text x="630.4" y="836.2" transform="rotate(0.03 630.4 836.2)">AXIN2</text>
</g>
</g>
</svg>
</body></html>
